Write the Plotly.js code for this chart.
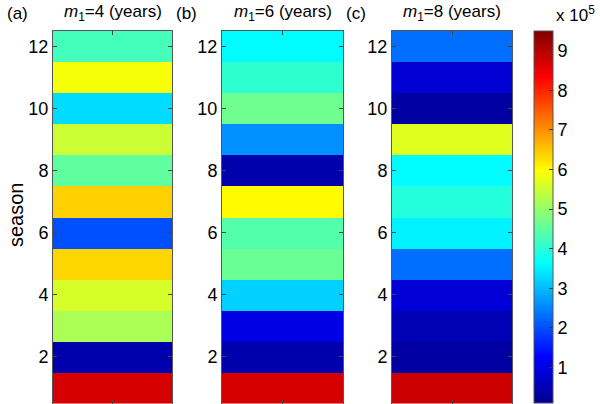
<!DOCTYPE html>
<html>
<head>
<meta charset="utf-8">
<script src="https://cdn.plot.ly/plotly-3.0.1.min.js"></script>
<style>
  html, body { margin: 0; padding: 0; background: #fff; }
  #chart { width: 600px; height: 404px; }
</style>
</head>
<body>
<div id="chart"></div>
<script>
// seasons 1..12, values in units of 1e5
const seasons = [1, 2, 3, 4, 5, 6, 7, 8, 9, 10, 11, 12];
const m1_4 = [8.7, 0.4, 5.2, 5.6, 6.35, 2.0, 6.4, 4.5, 5.5, 3.3, 5.9, 4.25];
const m1_6 = [8.7, 0.4, 1.0, 3.2, 4.6, 4.4, 6.0, 0.4, 2.6, 4.65, 4.05, 3.6];
const m1_8 = [8.8, 0.3, 0.5, 0.85, 2.3, 3.5, 3.95, 3.6, 5.7, 0.3, 0.8, 2.3];
const panelLabels = ['(a)', '(b)', '(c)'];
const panelTitles = ['4', '6', '8'];
const cbTicks = [1, 2, 3, 4, 5, 6, 7, 8, 9];

const jet = [
  [0, '#00008f'], [0.125, '#0000ff'], [0.375, '#00ffff'],
  [0.625, '#ffff00'], [0.875, '#ff0000'], [1, '#800000']
];

const series = [m1_4, m1_6, m1_8];
const domains = [[53 / 600, 172 / 600], [222 / 600, 343 / 600], [392 / 600, 512 / 600]];
const yDom = [0.5 / 404, 1 - 31 / 404];
const font = { family: 'Liberation Sans, Arial, sans-serif', size: 18, color: '#000' };
const titleFont = { ...font, size: 17 };

const traces = series.map((vals, i) => ({
  type: 'heatmap',
  x: [1],
  y: seasons,
  z: vals.map(v => [v]),
  xaxis: i === 0 ? 'x' : 'x' + (i + 1),
  yaxis: i === 0 ? 'y' : 'y' + (i + 1),
  coloraxis: 'coloraxis',
  zsmooth: false,
  hoverinfo: 'y+z'
}));

const layout = {
  width: 600,
  height: 404,
  margin: { l: 0, r: 0, t: 0, b: 0 },
  paper_bgcolor: '#fff',
  plot_bgcolor: '#fff',
  font: font,
  showlegend: false,
  coloraxis: {
    colorscale: jet,
    cmin: 0.1,
    cmax: 9.5,
    colorbar: {
      x: 534 / 600, xanchor: 'left', xpad: 0,
      y: 1 - 31 / 404, yanchor: 'top', ypad: 0,
      len: 372, lenmode: 'pixels',
      thickness: 19, thicknessmode: 'pixels',
      outlinewidth: 1, outlinecolor: '#555',
      tickvals: cbTicks,
      ticks: 'inside', ticklen: 4, tickcolor: '#333',
      tickfont: font
    }
  },
  annotations: [
    {
      text: 'season', textangle: -90, x: 16 / 600, y: 1 - 215 / 404,
      xanchor: 'center', yanchor: 'middle',
      xref: 'paper', yref: 'paper', showarrow: false, font: { ...font, size: 20 }
    },
    {
      text: 'x 10<sup>5</sup>', x: 0.995, y: 1 - 14 / 404, xref: 'paper', yref: 'paper',
      xanchor: 'right', yanchor: 'middle', showarrow: false, font: titleFont
    }
  ]
};

series.forEach((vals, i) => {
  const xk = i === 0 ? 'xaxis' : 'xaxis' + (i + 1);
  const yk = i === 0 ? 'yaxis' : 'yaxis' + (i + 1);
  const yName = i === 0 ? 'y' : 'y' + (i + 1);
  const xName = i === 0 ? 'x' : 'x' + (i + 1);
  layout[xk] = {
    domain: domains[i], anchor: yName, range: [0.5, 1.5],
    tickvals: [1], showticklabels: false, ticks: 'inside', ticklen: 4,
    showline: true, mirror: 'ticks', linecolor: '#555', linewidth: 1,
    showgrid: false, zeroline: false, fixedrange: true
  };
  layout[yk] = {
    domain: yDom, anchor: xName, range: [0.5, 12.5],
    tickvals: [2, 4, 6, 8, 10, 12], ticks: 'inside', ticklen: 4,
    showline: true, mirror: 'ticks', linecolor: '#555', linewidth: 1,
    showgrid: false, zeroline: false, tickfont: font, fixedrange: true
  };
  const mid = (domains[i][0] + domains[i][1]) / 2;
  layout.annotations.push({
    text: '<i>m</i><sub>1</sub>=' + panelTitles[i] + ' (years)',
    x: mid, y: 1 - 13 / 404, xref: 'paper', yref: 'paper',
    xanchor: 'center', yanchor: 'middle', showarrow: false, font: titleFont
  });
  layout.annotations.push({
    text: panelLabels[i],
    x: domains[i][0] - 48 / 600, y: 1 - 13 / 404, xref: 'paper', yref: 'paper',
    xanchor: 'left', yanchor: 'middle', showarrow: false, font: titleFont
  });
});

Plotly.newPlot('chart', traces, layout, { displayModeBar: false, staticPlot: true });
</script>
</body>
</html>
